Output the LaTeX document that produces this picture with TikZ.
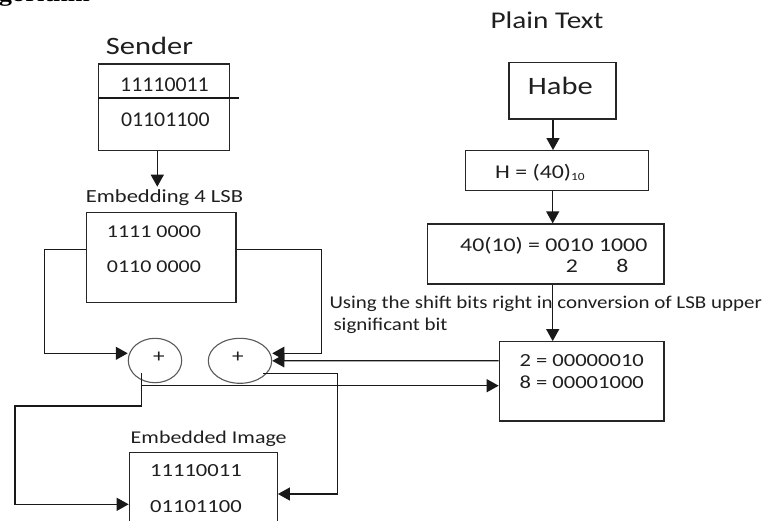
\documentclass[tikz,border=0pt]{standalone}
\usepackage{fontspec}
\setmainfont{Carlito}[FakeStretch=1.22]
\newfontfamily\narrowfont{Carlito}[FakeStretch=1.04]
\newfontfamily\notefont{Carlito}[FakeStretch=1.165]
\newfontfamily\headfont{Liberation Serif}[FakeStretch=1.2]
\usetikzlibrary{arrows.meta,shapes.geometric}
\newcommand\fsz[1]{\fontsize{#1}{#1}\selectfont}
\tikzset{
  box/.style={draw=black!85, line width=1.3pt, rectangle, inner sep=0pt},
  lbl/.style={inner sep=0pt, anchor=base, text=black!88},
  lblw/.style={inner sep=0pt, anchor=base west, text=black!88},
  arr/.style={line width=1.3pt, draw=black!90, -{Triangle[length=12pt,width=13pt]}},
  ln/.style={line width=1.3pt, draw=black!90},
  sumnode/.style={draw=black!65, line width=1.1pt, ellipse, inner sep=0pt},
}
\begin{document}
\begin{tikzpicture}[x=1pt,y=-1pt]
\useasboundingbox[fill=white] (0,0) rectangle (778,520);

% heading, cut by the page edge
\node[inner sep=0pt, anchor=base east] (head) at (90,1.5) {\headfont\bfseries\fsz{22}Algorithm};

% ---------- left column ----------
\node[lbl] (senderlbl) at (149.5,54.3) {\fsz{25}Sender};
\node[box, minimum width=130.6, minimum height=86.7] (sender) at (164,107.35) {};
\draw[ln] (sender.north west) ++(0,34.7) -- ++(141.3,0);
\node[lbl] (s1) at (164.5,91.7) {\narrowfont\fsz{21}11110011};
\node[lbl] (s2) at (165.3,126.7) {\narrowfont\fsz{21}01101100};

\node[lbl] (emblbl) at (164.5,202) {\fsz{18.5}Embedding 4 LSB};
\node[box, minimum width=149.3, minimum height=90.4] (emb) at (161.35,257.5) {};
\node[lblw] (e1) at (106.7,237.3) {\fsz{18}1111 0000};
\node[lblw] (e2) at (106.7,272.3) {\fsz{18}0110 0000};

\coordinate (a1) at (157.3,186.7);
\draw[arr] (sender.south -| a1) -- (a1);

% adders
\node[sumnode, minimum width=53.4, minimum height=44.4] (c1) at (155,360.5) {};
\node[sumnode, minimum width=63.4, minimum height=45] (c2) at (240,360.8) {};
\node[lbl] (p1) at (159,362) {\fsz{19}+};
\node[lbl] (p2) at (238,362) {\fsz{19}+};

% loops from the embedding box into the adders
\coordinate (l1) at (44.3,353.3);
\coordinate (r1) at (321.7,353.3);
\draw[arr] ([yshift=8.2pt]emb.west) -| (l1) -- (c1.west |- l1);
\draw[arr] ([yshift=8.2pt]emb.east) -| (r1) -- (c2.east |- r1);

% embedded image
\node[lbl] (imglbl) at (208.7,443.3) {\fsz{18}Embedded Image};
\node[box, minimum width=148, minimum height=77.7] (img) at (203.3,491.15) {};
\node[lblw] (i1) at (150,476.7) {\fsz{18.5}11110011};
\node[lblw] (i2) at (150,512.3) {\fsz{18.5}01101100};

% ---------- right column ----------
\node[lbl] (plainlbl) at (547,28.3) {\fsz{24}Plain Text};
\node[box, minimum width=107, minimum height=56.7] (habe) at (562.5,90.65) {};
\node[lbl] (habetxt) at (560.3,94) {\fsz{25}Habe};

\node[box, minimum width=182.6, minimum height=40] (hbox) at (557,170.7) {};
\node[lblw] (htxt) at (495,178.3) {\fsz{19.5}H = (40)\raisebox{-2.5pt}{\fsz{11}10}};

\node[box, minimum width=236.3, minimum height=60] (dec) at (545.85,254) {};
\node[lblw] (dtxt) at (460,251.7) {\fsz{19.5}40(10) = 0010 1000};
\node[lbl] (d2) at (572,272.7) {\fsz{19.5}2};
\node[lbl] (d8) at (622.5,272.7) {\fsz{19.5}8};

\node[lblw] (using1) at (329.3,308.3) {\notefont\fsz{18}Using the shift bits right in conversion of LSB upper};
\node[lblw] (using2) at (333.3,330) {\notefont\fsz{18}significant bit};

\node[box, minimum width=164.7, minimum height=79.3] (bits) at (581.65,381.35) {};
\node[lblw] (b1) at (519.3,366.7) {\fsz{18.5}2 = 00000010};
\node[lblw] (b2) at (519.3,388.3) {\fsz{18.5}8 = 00001000};

\coordinate (vx) at (553,0);
\coordinate (vy) at (552.7,0);
\draw[arr] (habe.south -| vx) -- (hbox.north -| vx);
\draw[arr] (hbox.south -| vy) -- (dec.north -| vy);
\draw[arr] (dec.south -| vy) -- (bits.north -| vy);

% links between the adders, the bit box and the embedded image
\draw[arr] ([yshift=20.65pt]bits.west) -- (c2.east);
\coordinate (j1) at (141.7,385.7);
\draw[arr] (j1) -- (bits.west |- j1);
\coordinate (c1out) at (141.7,373.3);
\coordinate (k1) at (15,406);
\coordinate (k2) at (15,504.3);
\draw[arr] (c1out) |- (k1) -- (k2) -- (img.west |- k2);
\coordinate (c2out) at (263.3,373.3);
\coordinate (r2) at (337.3,494);
\draw[arr] (c2out) -| (r2) -- (img.east |- r2);
\end{tikzpicture}
\end{document}
